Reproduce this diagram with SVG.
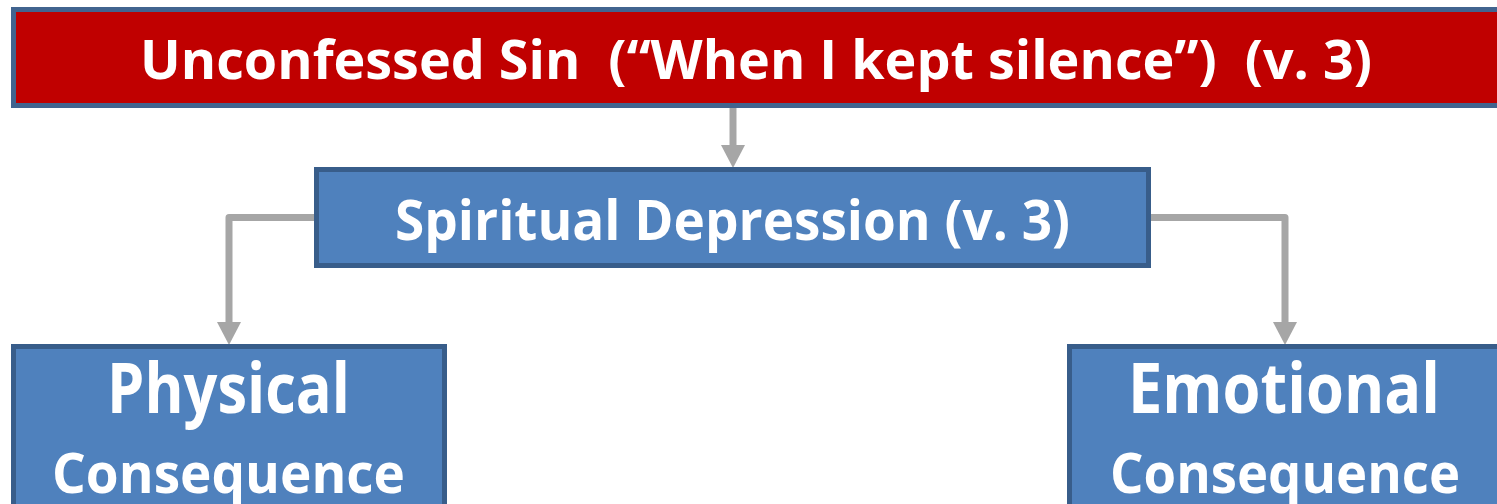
<svg xmlns="http://www.w3.org/2000/svg" width="1497" height="504" viewBox="0 0 1497 504">
<style>
.t{font-family:"Open Sans","Liberation Sans",sans-serif;font-weight:700;fill:#fff;text-anchor:middle;white-space:pre}
.box{fill:#4F81BD;stroke:#385D8A;stroke-width:5}
.red{fill:#C00000;stroke:#41648F;stroke-width:5}
.c{fill:none;stroke:#A6A6A6;stroke-width:7;stroke-linejoin:round}
</style>
<defs>
<marker id="ah" viewBox="0 0 23 24" refX="0" refY="12" markerWidth="23" markerHeight="24" markerUnits="userSpaceOnUse" orient="auto">
<path d="M0,0 L23,12 L0,24 z" fill="#A6A6A6"/>
</marker>
</defs>
<g id="connectors">
<path class="c" d="M733,108 V145" marker-end="url(#ah)"/>
<path class="c" d="M318,217.5 H229 V322" marker-end="url(#ah)"/>
<path class="c" d="M1148,217.5 H1285 V322" marker-end="url(#ah)"/>
</g>
<g id="unconfessed">
<rect class="red" x="13.5" y="9.5" width="1500" height="96"/>
<text class="t" x="756" y="79" font-size="53" textLength="1232" lengthAdjust="spacingAndGlyphs">Unconfessed Sin  (“When I kept silence”)  (v. 3)</text>
</g>
<g id="spiritual">
<rect class="box" x="316.5" y="169.5" width="832" height="96"/>
<text class="t" x="732.5" y="240" font-size="56" textLength="675" lengthAdjust="spacingAndGlyphs">Spiritual Depression (v. 3)</text>
</g>
<g id="physical">
<rect class="box" x="13.5" y="346.5" width="431" height="200"/>
<text class="t" x="228.5" y="413" font-size="70" textLength="243" lengthAdjust="spacingAndGlyphs">Physical</text>
<text class="t" x="228.5" y="493" font-size="56" textLength="353" lengthAdjust="spacingAndGlyphs">Consequence</text>
</g>
<g id="emotional">
<rect class="box" x="1069.5" y="346.5" width="500" height="200"/>
<text class="t" x="1284" y="413" font-size="70" textLength="312" lengthAdjust="spacingAndGlyphs">Emotional</text>
<text class="t" x="1285" y="493" font-size="56" textLength="350" lengthAdjust="spacingAndGlyphs">Consequence</text>
</g>
</svg>
